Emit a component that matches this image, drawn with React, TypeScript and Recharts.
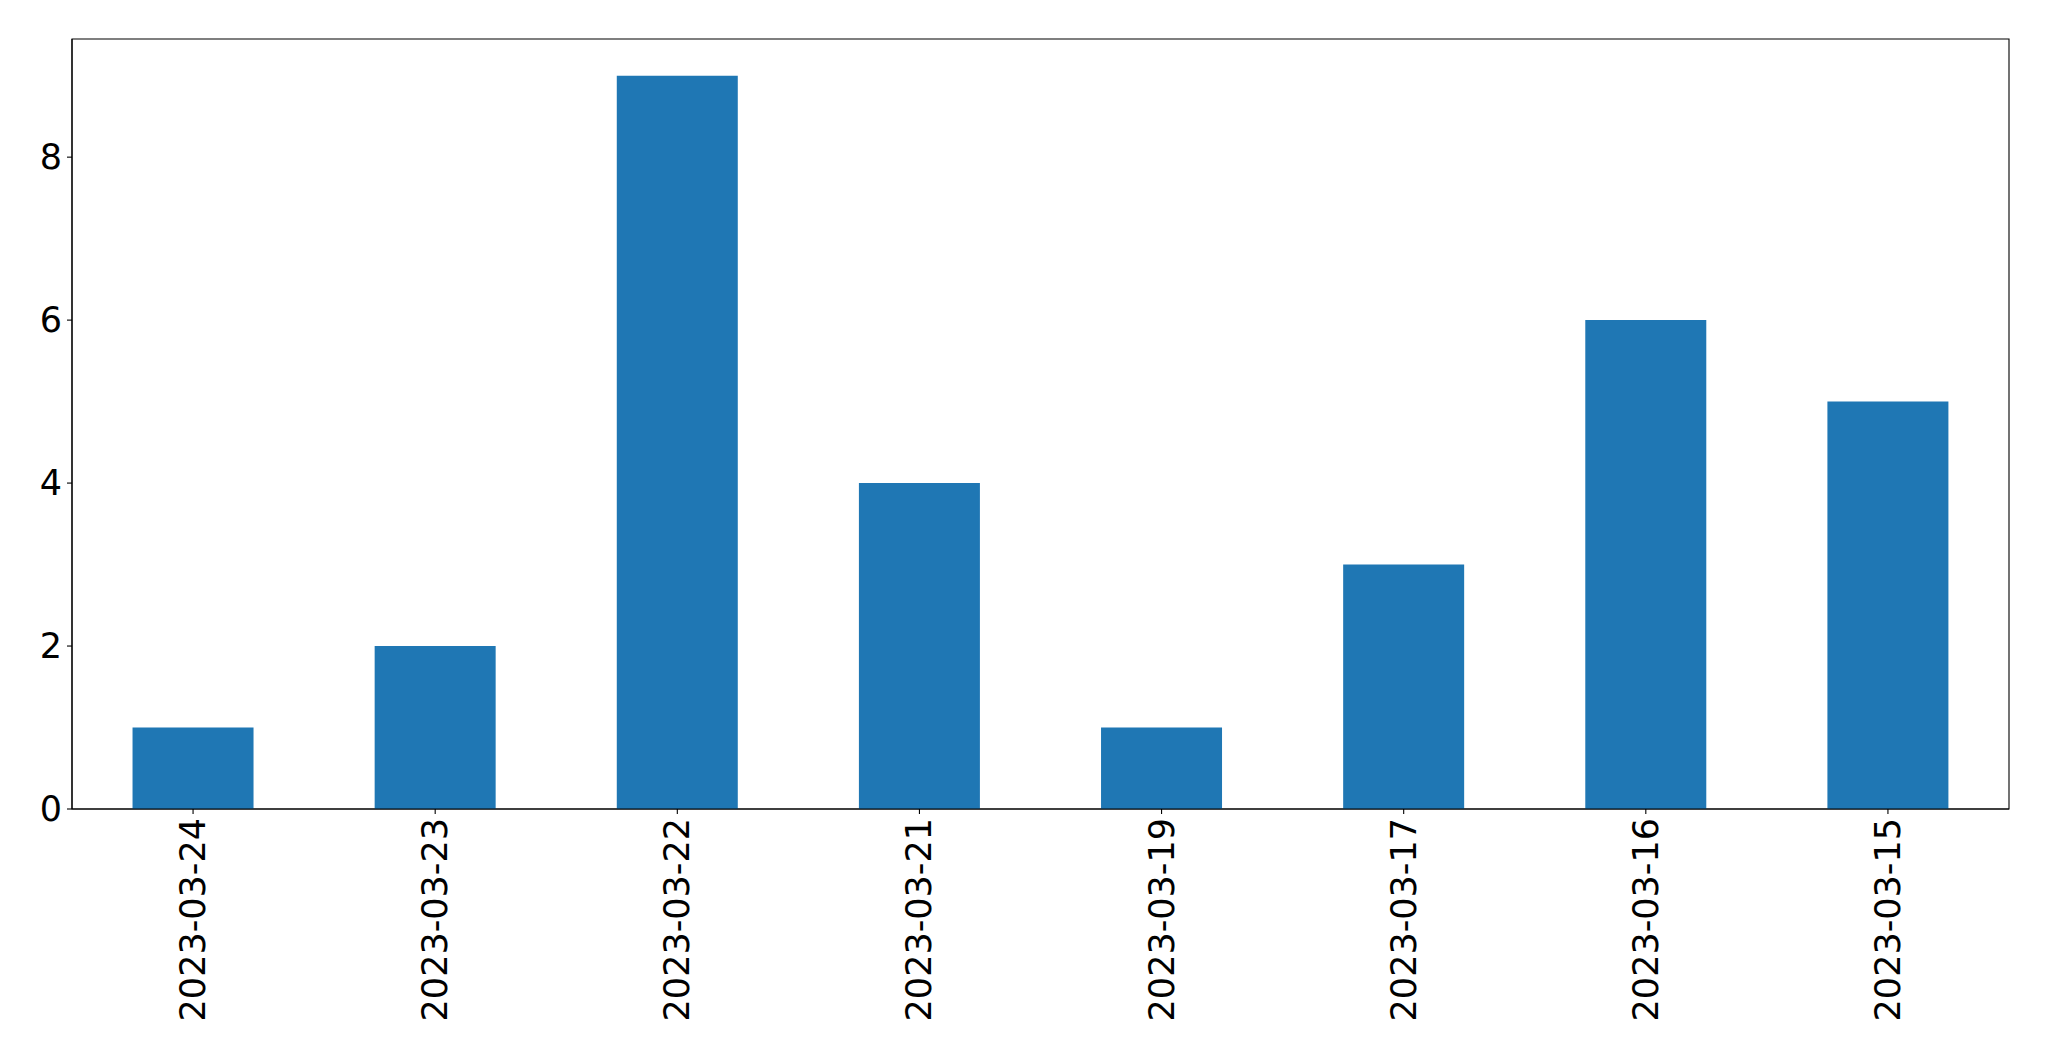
import React from "react";
import { BarChart, Bar, XAxis, YAxis, ReferenceArea } from "recharts";

const categories = [
  "2023-03-24",
  "2023-03-23",
  "2023-03-22",
  "2023-03-21",
  "2023-03-19",
  "2023-03-17",
  "2023-03-16",
  "2023-03-15",
];
const counts = [1, 2, 9, 4, 1, 3, 6, 5];
const yTicks = [0, 2, 4, 6, 8];
const yMax = 9.45;

const data = categories.map((c, i) => ({ date: c, count: counts[i] }));

const FONT = "DejaVu Sans";
const FS = 35;

const XTick = (props: any) => {
  const { x, payload } = props;
  const y = 818;
  return (
    <text
      x={x}
      y={y}
      transform={`rotate(-90, ${x}, ${y})`}
      textAnchor="end"
      dominantBaseline="central"
      style={{ fontSize: FS, fontFamily: FONT }}
      fill="#000"
    >
      {payload.value}
    </text>
  );
};

const YTick = (props: any) => {
  const { y, payload } = props;
  return (
    <text
      x={62}
      y={y}
      textAnchor="end"
      dominantBaseline="central"
      style={{ fontSize: FS, fontFamily: FONT }}
      fill="#000"
    >
      {payload.value}
    </text>
  );
};

export default function App() {
  return (
    <div style={{ position: "absolute", left: 0, top: 0, background: "#fff" }}>
      <BarChart
        width={2049}
        height={1061}
        data={data}
        margin={{ top: 39, right: 40, bottom: 52, left: 12 }}
        barCategoryGap="25%"
      >
        <XAxis
          dataKey="date"
          height={200}
          interval={0}
          tickSize={5}
          tickMargin={5}
          tickLine={{ stroke: "#000", strokeWidth: 1.1 }}
          axisLine={{ stroke: "#000", strokeWidth: 1.1 }}
          tick={<XTick />}
        />
        <YAxis
          width={60}
          domain={[0, yMax]}
          ticks={yTicks}
          tickSize={5}
          tickMargin={5}
          tickLine={{ stroke: "#000", strokeWidth: 1.1 }}
          axisLine={{ stroke: "#000", strokeWidth: 1.1 }}
          tick={<YTick />}
          allowDataOverflow
        />
        <Bar dataKey="count" fill="#1f77b4" isAnimationActive={false} />
        <ReferenceArea
          y1={0}
          y2={yMax}
          fill="none"
          stroke="#000"
          strokeWidth={1.1}
          ifOverflow="visible"
        />
      </BarChart>
    </div>
  );
}
